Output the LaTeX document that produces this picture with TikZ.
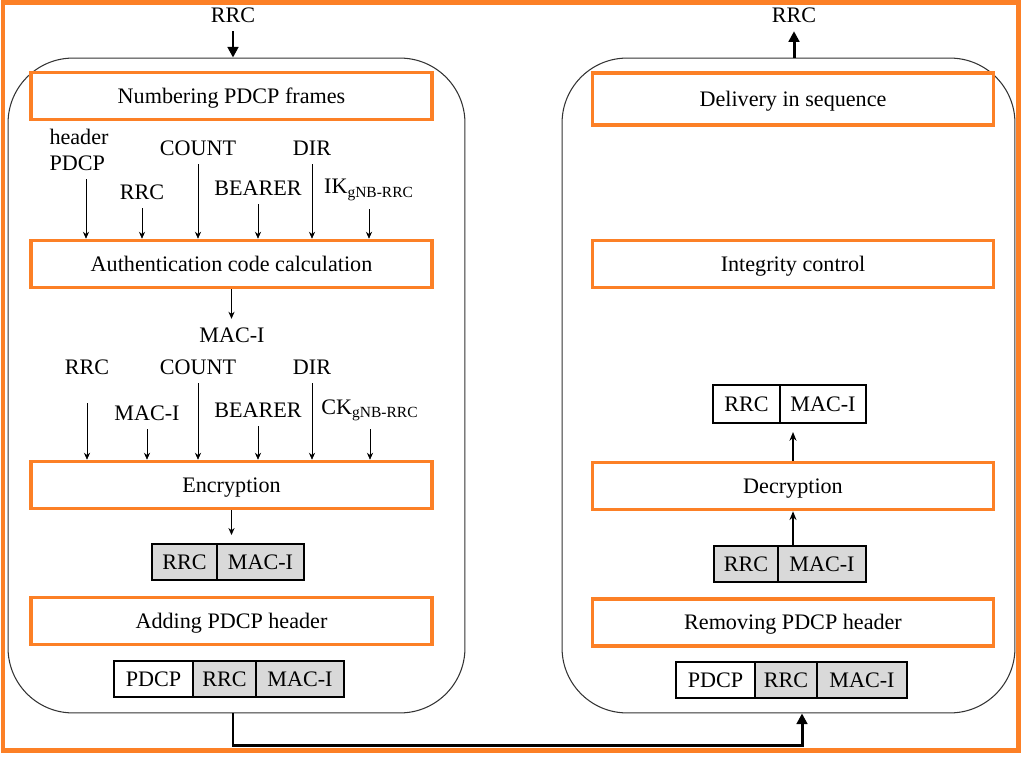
\documentclass[tikz,border=0pt]{standalone}
\usepackage{fontspec}
\setmainfont{Liberation Serif}
\usepackage{tikz}
\usetikzlibrary{positioning,arrows.meta}
\definecolor{frameorange}{RGB}{252,128,38}
\definecolor{cellgray}{RGB}{217,217,217}

\begin{document}
\begin{tikzpicture}[
    x=0.02cm, y=-0.02cm,
    panel/.style={rectangle, draw=black!80, line width=0.6pt, rounded corners=1.3cm, minimum width=9.14cm, minimum height=13.1cm},
    stage/.style={rectangle, draw=frameorange, line width=2pt, minimum width=8.02cm, minimum height=0.94cm, text height=1.05em, text depth=0.22em, font=\fontsize{12.6}{14}\selectfont},
    cell/.style={rectangle, draw, line width=0.8pt, minimum height=0.72cm, inner sep=0pt, outer sep=0pt, font=\fontsize{12.6}{14}\selectfont},
    lbl/.style={inner sep=1pt, outer sep=4pt, align=left, font=\fontsize{12.6}{14.5}\selectfont},
    inarrow/.style={-{Stealth[length=4pt,width=3.5pt]}, thin},
    uparrow/.style={-{Stealth[length=5pt,width=4pt]}, line width=0.9pt},
    bigarrow/.style={-{Triangle[length=6pt,width=6pt]}, line width=1.7pt},
]
\useasboundingbox (0,0) rectangle (1024,757);

% Panels
\node[panel] (tx) at (236.5,385.5) {};
\node[panel, minimum width=9.06cm] (rx) at (788.5,385.5) {};

% Left panel - sending side
\node[stage] (num) at (231.5,96) {Numbering PDCP frames};
\node[stage] (auth) at (231.5,264) {Authentication code calculation};
\node[stage] (enc) at (231.5,485) {Encryption};
\node[stage] (add) at (231.5,621) {Adding PDCP header};

% inputs of the authentication code
\node[lbl] (hdr) at (79,150) {header\\PDCP};
\node[lbl] (arrc) at (142,192) {RRC};
\node[lbl] (acount) at (198,148) {COUNT};
\node[lbl] (abearer) at (258,188) {BEARER};
\node[lbl] (adir) at (312,148) {DIR};
\node[lbl] (aik) at (369,190) {IK\textsubscript{gNB-RRC}};

\coordinate (hdrtip) at ([xshift=0.14cm]hdr.south);
\draw[inarrow] (hdrtip) -- (hdrtip |- auth.north);
\foreach \n in {arrc,acount,abearer,adir,aik}
    \draw[inarrow] (\n) -- (\n |- auth.north);

\node[lbl] (mac) at (232,335) {MAC-I};
\draw[inarrow] (auth.south) -- (auth.south |- mac.north);

% inputs of the encryption
\node[lbl] (erc) at (87,367) {RRC};
\node[lbl] (emac) at (147,413) {MAC-I};
\node[lbl] (ecount) at (198,367) {COUNT};
\node[lbl] (ebearer) at (258,410) {BEARER};
\node[lbl] (edir) at (312,367) {DIR};
\node[lbl] (eck) at (370,410) {CK\textsubscript{gNB-RRC}};

\draw[inarrow, shorten <=0.4cm] (erc) -- (erc |- enc.north);
\foreach \n in {emac,ecount,ebearer,edir,eck}
    \draw[inarrow] (\n) -- (\n |- enc.north);

% packets on the sending side
\node[cell, fill=cellgray, minimum width=1.30cm] (lrrc) at (184.5,562) {RRC};
\node[cell, fill=cellgray, minimum width=1.74cm, right=0pt of lrrc] (lmac) {MAC-I};
\draw[inarrow, shorten >=0.18cm] (enc.south) -- (enc.south |- lmac.north);

\node[cell, minimum width=1.58cm] (lpdcp) at (153.5,679) {PDCP};
\node[cell, fill=cellgray, minimum width=1.26cm, right=0pt of lpdcp] (lprrc) {RRC};
\node[cell, fill=cellgray, minimum width=1.76cm, right=0pt of lprrc] (lpmac) {MAC-I};

% Right panel - receiving side
\node[stage, minimum height=1.04cm] (deliv) at (793,99) {Delivery in sequence};
\node[stage] (integ) at (793,264) {Integrity control};
\node[stage] (decr) at (793,486) {Decryption};
\node[stage] (remv) at (793,622.5) {Removing PDCP header};

\node[cell, minimum width=1.34cm, minimum height=0.76cm] (rrrc) at (746.5,404) {RRC};
\node[cell, minimum width=1.72cm, minimum height=0.76cm, right=0pt of rrrc] (rmac) {MAC-I};

\node[cell, fill=cellgray, minimum width=1.28cm] (grrc) at (746,564) {RRC};
\node[cell, fill=cellgray, minimum width=1.76cm, right=0pt of grrc] (gmac) {MAC-I};

\node[cell, minimum width=1.58cm] (rpdcp) at (715.5,680) {PDCP};
\node[cell, fill=cellgray, minimum width=1.24cm, right=0pt of rpdcp] (rprrc) {RRC};
\node[cell, fill=cellgray, minimum width=1.80cm, right=0pt of rprrc] (rpmac) {MAC-I};

\draw[uparrow] (decr.south |- gmac.north) -- (decr.south);
\draw[uparrow, shorten >=0.18cm] (decr.north) -- (decr.north |- rmac.south);

% RRC in and out
\node[lbl] (rrcin) at (233,15) {RRC};
\draw[bigarrow] (rrcin) -- (rrcin |- tx.north);
\node[lbl] (rrcout) at (794,15) {RRC};
\draw[bigarrow] (rrcout |- rx.north) -- (rrcout);

% link between the two sides
\coordinate (txout) at ([xshift=-0.07cm]tx.south);
\coordinate (rxin) at ([xshift=0.27cm]rx.south);
\draw[bigarrow] (txout) -- ++(0,32) -| (rxin);

% Outer frame
\draw[frameorange, line width=0.1cm] (3,3) rectangle (1018,750);

\end{tikzpicture}
\end{document}
